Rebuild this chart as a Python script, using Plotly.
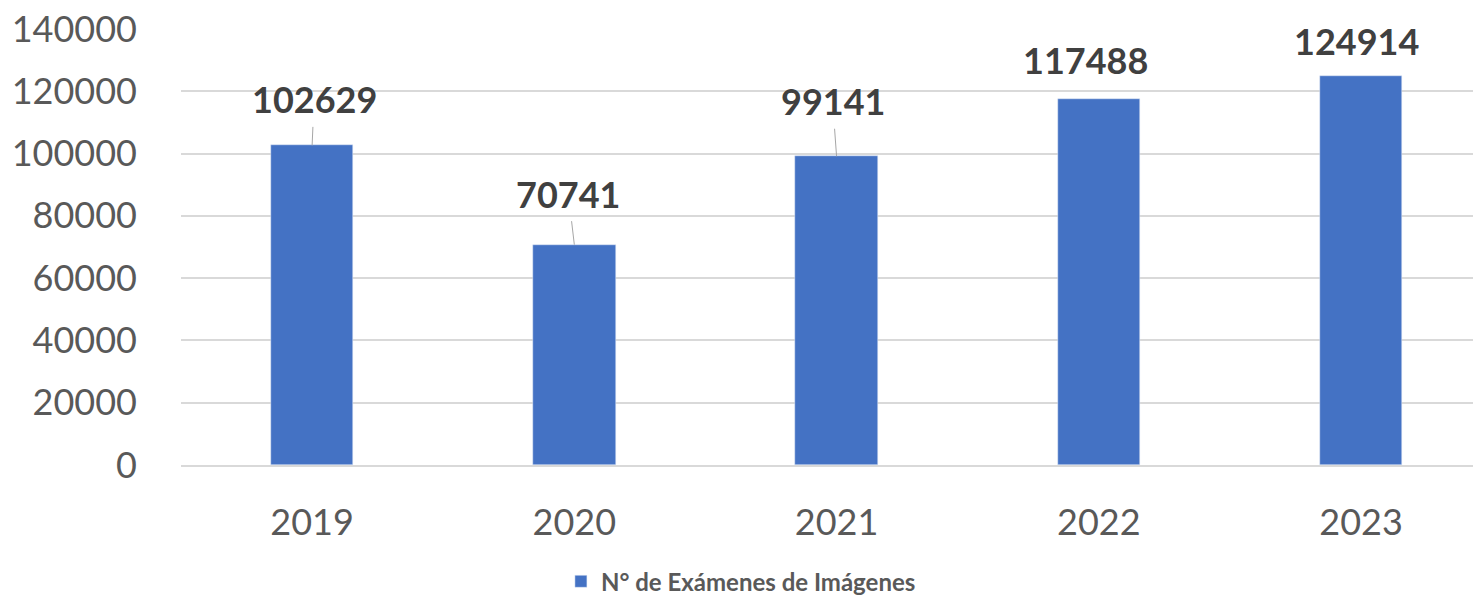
import plotly.graph_objects as go

# data
years = ["2019", "2020", "2021", "2022", "2023"]
exams = [102629, 70741, 99141, 117488, 124914]
series_name = "N° de Exámenes de Imágenes"
y_ticks = [0, 20000, 40000, 60000, 80000, 100000, 120000, 140000]

# label placement (pixel offsets from bar top centre) and leader lines
label_dx = [2, -6, -4, -13, -5]
label_dy = [-46, -51, -55, -39, -35]
leader = [True, True, True, False, False]

BAR = "#4472c4"
GRID = "#d9d9d9"
FONT = "Lato"

fig = go.Figure()

fig.add_trace(go.Bar(
    x=years,
    y=exams,
    name=series_name,
    marker_color=BAR,
    width=0.315,
    showlegend=True
))

# category axis: annotations placed by category index
for i, (val, dx, dy, ld) in enumerate(zip(exams, label_dx, label_dy, leader)):
    fig.add_annotation(
        x=i, y=val,
        text=f"{val}",
        showarrow=True,
        arrowhead=0,
        arrowwidth=1,
        arrowcolor="#a6a6a6" if ld else "rgba(0,0,0,0)",
        ax=dx, ay=dy,
        startstandoff=4,
        font=dict(family=FONT, size=36, color="#404040", weight="bold")
    )

fig.update_layout(
    width=1473,
    height=596,
    margin=dict(l=181, r=0, t=29, b=131),
    plot_bgcolor="white",
    paper_bgcolor="white",
    font=dict(family=FONT, color="#595959"),
    bargap=0,
    showlegend=True,
    legend=dict(
        orientation="h",
        xref="container", yref="container",
        x=0.503, y=0.024,
        xanchor="center", yanchor="middle",
        font=dict(family=FONT, size=24, color="#595959", weight="bold"),
    ),
    xaxis=dict(
        type="category",
        range=[-0.5, 4.427],
        showgrid=False,
        showline=True,
        linecolor=GRID,
        linewidth=2,
        ticks="",
        tickfont=dict(family=FONT, size=36, color="#595959"),
        ticklabelstandoff=25,
    ),
    yaxis=dict(
        range=[0, 140000],
        tickvals=y_ticks,
        ticktext=[str(v) for v in y_ticks],
        showgrid=True,
        gridcolor=GRID,
        gridwidth=1.5,
        zeroline=False,
        showline=False,
        ticks="",
        tickfont=dict(family=FONT, size=36, color="#595959"),
        ticklabelstandoff=43,
    ),
)

fig.write_html(
    "out.html",
    config={"displayModeBar": False},
    post_script="document.body.style.margin='0';",
)
